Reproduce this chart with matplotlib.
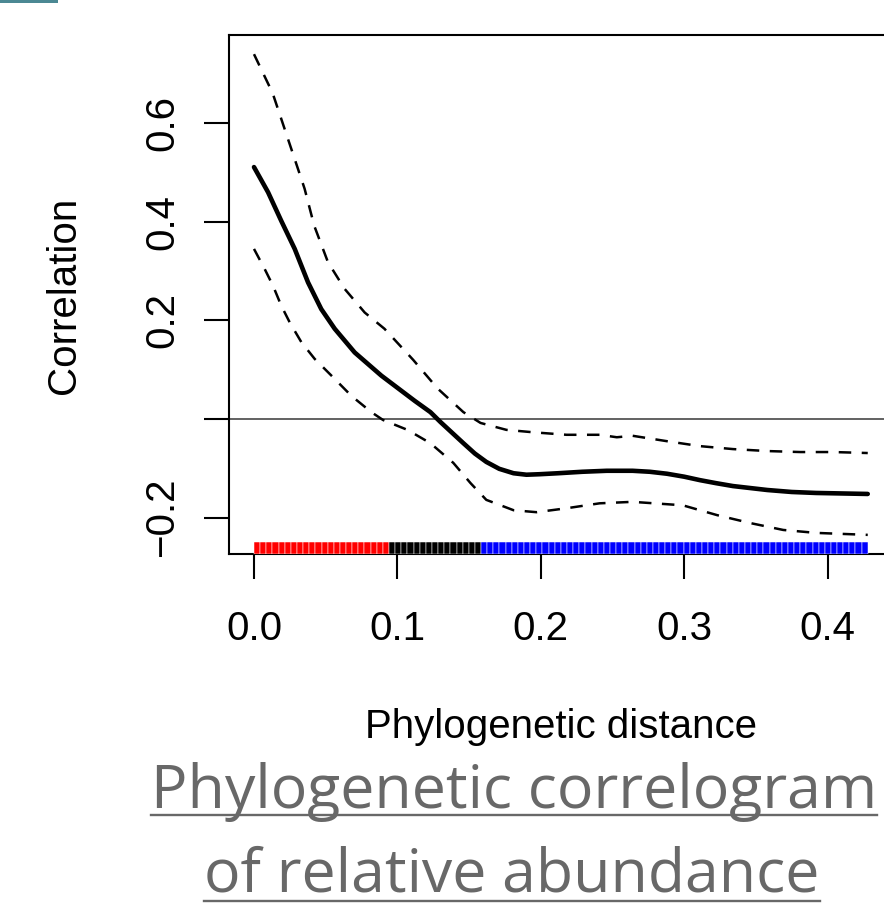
import numpy as np
import matplotlib
matplotlib.use("Agg")
import matplotlib.pyplot as plt
from matplotlib.lines import Line2D
from matplotlib.patches import Rectangle

# correlogram curves
dist_mid = [0.0, 0.0098, 0.019, 0.0284, 0.0377, 0.0469, 0.0563, 0.0702, 0.0888,
            0.112, 0.123, 0.130, 0.146, 0.154, 0.162, 0.171, 0.181, 0.190, 0.199,
            0.212, 0.229, 0.246, 0.264, 0.276, 0.288, 0.300, 0.311, 0.322, 0.334,
            0.346, 0.358, 0.375, 0.392, 0.410, 0.428]
corr_mid = [0.511, 0.460, 0.402, 0.345, 0.277, 0.223, 0.183, 0.135, 0.088,
            0.037, 0.014, -0.006, -0.049, -0.070, -0.087, -0.101, -0.110, -0.113, -0.112,
            -0.110, -0.107, -0.105, -0.105, -0.107, -0.111, -0.117, -0.124, -0.130, -0.136,
            -0.140, -0.144, -0.148, -0.150, -0.151, -0.152]

dist_up = [0.0, 0.013, 0.026, 0.0353, 0.042, 0.0516, 0.0632, 0.0772, 0.091, 0.111,
           0.128, 0.146, 0.158, 0.176, 0.195, 0.218, 0.241, 0.253, 0.264, 0.288,
           0.311, 0.334, 0.358, 0.381, 0.404, 0.428]
corr_up = [0.740, 0.661, 0.548, 0.467, 0.392, 0.318, 0.264, 0.216, 0.183, 0.120,
           0.062, 0.014, -0.008, -0.022, -0.027, -0.032, -0.032, -0.037, -0.034, -0.045,
           -0.055, -0.061, -0.065, -0.067, -0.067, -0.069]

dist_lo = [0.0, 0.0075, 0.0133, 0.019, 0.0249, 0.033, 0.0423, 0.054, 0.0679, 0.0818,
           0.090, 0.107, 0.123, 0.139, 0.151, 0.162, 0.181, 0.197, 0.218, 0.241,
           0.264, 0.299, 0.323, 0.346, 0.369, 0.392, 0.428]
corr_lo = [0.345, 0.304, 0.270, 0.230, 0.196, 0.156, 0.122, 0.088, 0.047, 0.014,
           -0.002, -0.022, -0.049, -0.089, -0.130, -0.164, -0.185, -0.189, -0.181, -0.171,
           -0.168, -0.175, -0.195, -0.211, -0.225, -0.231, -0.235]

# significance strip: number of distance classes per colour
max_dist = 0.428
n_red, n_black, n_blue = 22, 15, 63
class_colors = ["red"] * n_red + ["black"] * n_black + ["blue"] * n_blue

xticks = [0.0, 0.1, 0.2, 0.3, 0.4]
xticklabels = ["0.0", "0.1", "0.2", "0.3", "0.4"]
yticks = [-0.2, 0.0, 0.2, 0.4, 0.6]
yticklabels = ["\u22120.2", "", "0.2", "0.4", "0.6"]

W, H = 884, 906
fig = plt.figure(figsize=(W / 100, H / 100), dpi=100)
plt.rcParams["font.family"] = ["Liberation Sans", "DejaVu Sans"]

xlim = (-0.01743, 0.445)
ylim = (-0.2738, 0.7789)
ax_w = (xlim[1] - xlim[0]) * 1434
ax = fig.add_axes([229 / W, (H - 554) / H, ax_w / W, 519 / H])
ax.set_xlim(xlim)
ax.set_ylim(ylim)

ax.axhline(0, color="#555555", lw=1.3, zorder=1)
ax.plot(dist_up, corr_up, color="black", lw=1.8, dashes=(5, 4.2), zorder=3)
ax.plot(dist_lo, corr_lo, color="black", lw=1.8, dashes=(5, 4.2), zorder=3)
ax.plot(dist_mid, corr_mid, color="black", lw=3.3, solid_capstyle="round",
        solid_joinstyle="round", zorder=4)

n_cls = len(class_colors)
cls_w = max_dist / n_cls
cls_left = [i * cls_w for i in range(n_cls)]
ax.bar(cls_left, 0.0245, width=cls_w, bottom=ylim[0], align="edge",
       color=class_colors, edgecolor="white", linewidth=0.35, zorder=5)

for s in ["left", "top", "bottom", "right"]:
    ax.spines[s].set_linewidth(1.5)

ax.set_xticks(xticks)
ax.set_xticklabels(xticklabels)
ax.set_yticks(yticks)
ax.set_yticklabels(yticklabels)
ax.tick_params(axis="both", length=18, width=1.5, labelsize=29)
ax.tick_params(axis="y", pad=22)
ax.tick_params(axis="x", pad=44)
for lab in ax.get_yticklabels():
    lab.set_rotation(90)
    lab.set_rotation_mode("anchor")
    lab.set_ha("center")
    lab.set_va("baseline")
for lab in ax.get_xticklabels():
    lab.set_va("baseline")

fig.text(75 / W, 1 - 295 / H, "Correlation", rotation=90, rotation_mode="anchor",
         ha="center", va="baseline", fontsize=29)
fig.text(561 / W, 1 - 738 / H, "Phylogenetic distance", ha="center",
         va="baseline", fontsize=29)

# underlined title below the chart
title_col = "#686868"
t1 = fig.text(514 / W, 1 - 808 / H, "Phylogenetic correlogram", ha="center",
              va="baseline", fontsize=38, color=title_col, family="Open Sans")
t2 = fig.text(512 / W, 1 - 892 / H, "of relative abundance", ha="center",
              va="baseline", fontsize=38, color=title_col, family="Open Sans")
r = fig.canvas.get_renderer()
size = 38 * 725 / t1.get_window_extent(r).width
t1.set_fontsize(size)
t2.set_fontsize(size)
for t, uy in [(t1, 815), (t2, 901)]:
    bb = t.get_window_extent(r)
    fig.add_artist(Line2D([bb.x0 / W, bb.x1 / W], [1 - uy / H, 1 - uy / H],
                          color=title_col, lw=1.7))

fig.add_artist(Rectangle((0, 1 - 3 / H), 58 / W, 3 / H, color="#4b8893", lw=0))

fig.savefig("out.png", dpi=100)
